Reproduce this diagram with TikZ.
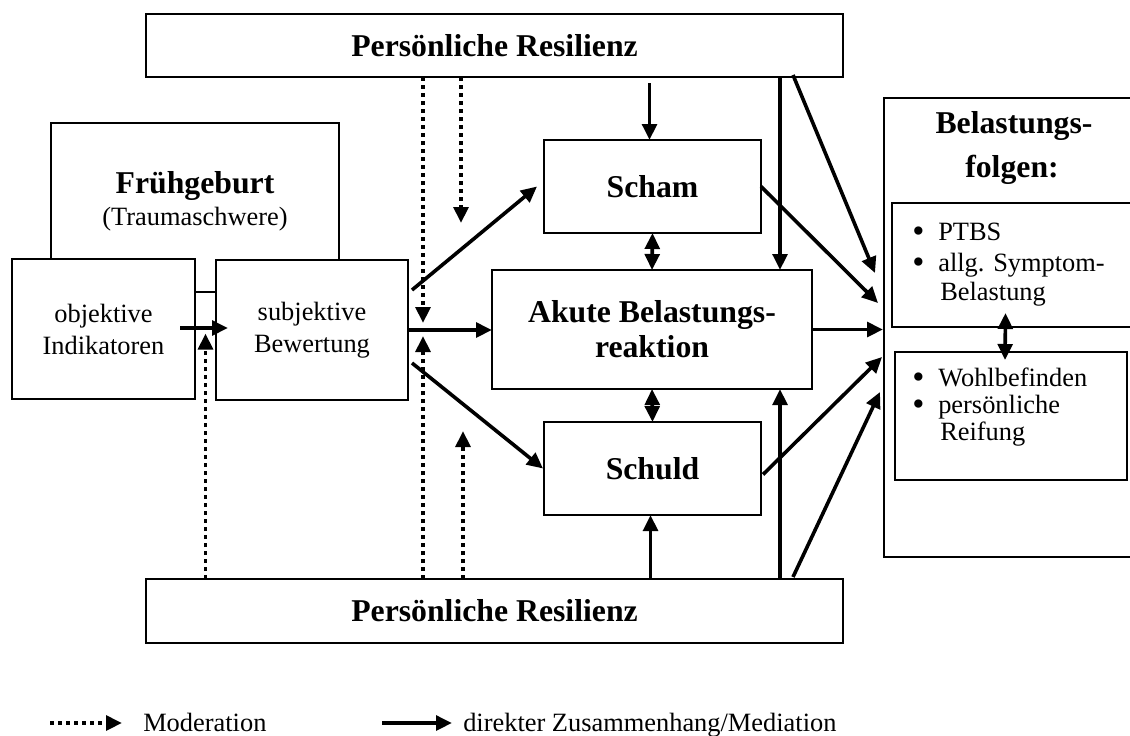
\documentclass[tikz,border=0pt]{standalone}
\usepackage{fontspec}
\setmainfont{Liberation Serif}
\usetikzlibrary{arrows.meta,calc}
\newcommand\fBold{\fontsize{23.8}{26.3}\selectfont\bfseries}
\newcommand\fReg{\fontsize{19.8}{24}\selectfont}
\newcommand\itemdot{\makebox[19.5pt][l]{\raisebox{-2.2pt}{\fontsize{26}{24}\selectfont •}}}
\tikzset{
  box/.style={draw, line width=1.3pt, fill=white, inner sep=0pt, outer sep=0pt, align=center},
  arr/.style={line width=2.7pt, -{Triangle[length=12pt,width=11pt]}},
  darr/.style={line width=2.7pt, {Triangle[length=12pt,width=11pt]}-{Triangle[length=12pt,width=11pt]}},
  mod/.style={line width=2.8pt, dash pattern=on 3pt off 3pt, -{Triangle[length=12pt,width=11pt]}},
  txt/.style={inner sep=0pt, anchor=base},
  ltxt/.style={inner sep=0pt, anchor=base west},
}
\begin{document}
\begin{tikzpicture}[x=0.75pt,y=-0.75pt]
\useasboundingbox (0,0) rectangle (1130,735);
\clip (0,0) rectangle (1130,735);

% resilience bands
\node[box, font=\fBold, minimum width=522.75pt, minimum height=47.25pt] (topR) at (494.5,45.5) {Persönliche Resilienz};
\node[box, font=\fBold, minimum width=522.75pt, minimum height=48pt] (botR) at (494.5,611) {Persönliche Resilienz};

% trauma block
\node[box, minimum width=216pt, minimum height=126.75pt] (frueh) at (195,207.5) {};
\node[txt, font=\fBold] (fruehT) at (195,193) {Frühgeburt};
\node[txt, font=\fReg] (fruehS) at (195,225) {(Traumaschwere)};
\node[box, font=\fReg, minimum width=137.25pt, minimum height=105pt] (obj) at (103.5,329) {objektive\\Indikatoren};
\node[box, font=\fReg, minimum width=144pt, minimum height=105pt] (subj) at (312,330) {subjektive\\Bewertung};

% emotional reactions
\node[box, font=\fBold, minimum width=162.75pt, minimum height=69.75pt] (scham) at (652.5,186.5) {Scham};
\node[box, font=\fBold, minimum width=240pt, minimum height=89.25pt] (akute) at (652,329.5) {Akute Belastungs-\\reaktion};
\node[box, font=\fBold, minimum width=162.75pt, minimum height=69.75pt] (schuld) at (652.5,468.5) {Schuld};

% outcomes
\node[box, minimum width=192pt, minimum height=344.25pt] (folgen) at (1012,327.5) {};
\node[txt, font=\fBold] (folgenA) at (1014,133) {Belastungs-};
\node[txt, font=\fBold] (folgenB) at (1012,177) {folgen:};
\node[box, minimum width=179.25pt, minimum height=93pt] (in1) at (1011.5,265) {};
\node[box, minimum width=174pt, minimum height=96pt] (in2) at (1011,416) {};
\node[ltxt, font=\fReg] (t1) at (912,240) {\itemdot PTBS};
\node[ltxt, font=\fReg] (t2) at (912,271) {\itemdot allg. Symptom-};
\node[ltxt, font=\fReg] (t3) at (940,300) {Belastung};
\node[ltxt, font=\fReg] (t4) at (912,386) {\itemdot Wohlbefinden};
\node[ltxt, font=\fReg] (t5) at (912,413) {\itemdot persönliche};
\node[ltxt, font=\fReg] (t6) at (940,440) {Reifung};

% appraisal path
\draw[arr] ($(obj.east)+(-15,-1)$) -- ($(subj.west)+(12,-2)$);
\draw[arr] ($(subj.north east)+(4,30)$) -- ($(scham.west)+(-7,0)$);
\draw[arr] (subj.east) -- (subj.east -| akute.west);
\draw[arr] ($(subj.south east)+(4,-37)$) -- ($(schuld.west)+(-1,0)$);

% moderation by resilience
\coordinate (m1) at ($(obj.east)!0.5!(subj.west)$);
\draw[mod] (m1 |- botR.north) -- ($(m1)+(0,4)$);
\coordinate (m2) at (423,330);
\draw[mod] (m2 |- topR.south) -- ($(m2)+(0,-7)$);
\draw[mod] (m2 |- botR.north) -- ($(m2)+(0,6)$);
\coordinate (m3a) at (461,223);
\coordinate (m3b) at (463,431);
\draw[mod] (m3a |- topR.south) -- (m3a);
\draw[mod] (m3b |- botR.north) -- (m3b);

% direct effects of resilience
\draw[arr] ($(topR.south -| scham.north)+(-3,6)$) -- ($(scham.north)+(-3,0)$);
\draw[arr] ($(botR.north -| schuld.south)+(-2,0)$) -- ($(schuld.south)+(-2,0)$);
\coordinate (v) at (780,0);
\draw[arr] (topR.south -| v) -- (akute.north -| v);
\draw[arr] (botR.north -| v) -- (akute.south -| v);

% links between reactions
\draw[darr] (scham.south) -- (akute.north);
\draw[darr] (akute.south) -- (schuld.north);

% paths into outcomes
\draw[arr] ($(topR.south east)+(-50,-2)$) -- ($(folgen.north west)+(-9,175)$);
\draw[arr] (scham.east) -- ($(folgen.north west)+(-6,205)$);
\draw[arr] (akute.east) -- ($(akute.east -| folgen.west)+(-1,0)$);
\draw[arr] ($(schuld.east)+(2,6)$) -- ($(folgen.north west)+(-2,259)$);
\draw[arr] ($(botR.north east)+(-50,-2)$) -- ($(folgen.north west)+(-4,294)$);
\draw[darr] ($(in1.south)+(-6,-14)$) -- ($(in2.north)+(-6,8)$);

% legend
\coordinate (l1) at (50,723);
\coordinate (l2) at (122,723);
\draw[mod] (l1) -- (l2);
\node[ltxt, font=\fReg] (lmod) at (143,731) {Moderation};
\coordinate (l3) at (382,723);
\coordinate (l4) at (452,723);
\draw[arr] (l3) -- (l4);
\node[ltxt, font=\fReg] (ldir) at (463,731) {direkter Zusammenhang/Mediation};
\end{tikzpicture}
\end{document}
